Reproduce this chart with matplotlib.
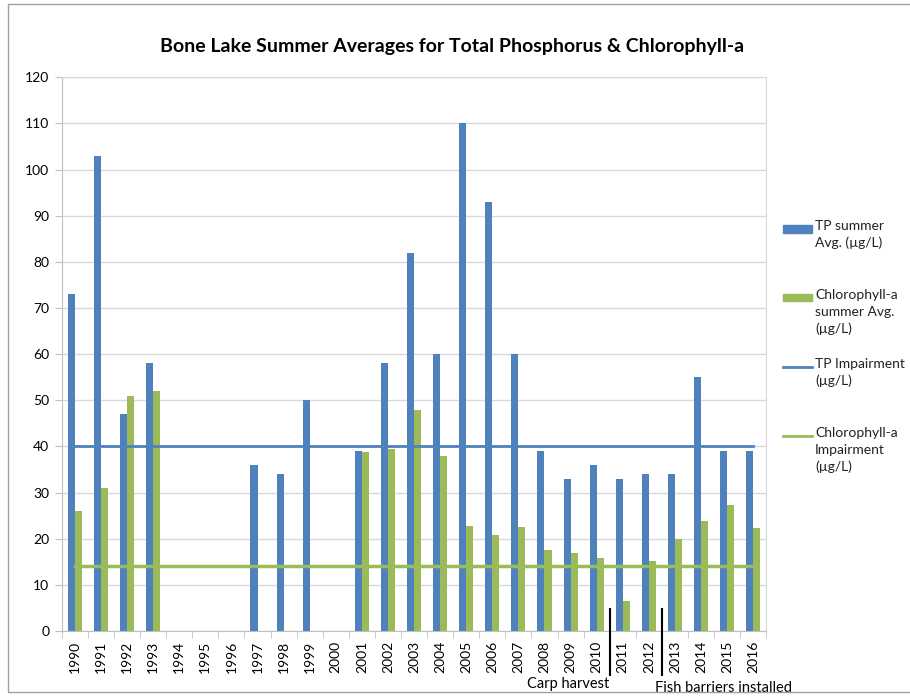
import matplotlib.pyplot as plt
from matplotlib.patches import Rectangle
from matplotlib.lines import Line2D
import numpy as np

plt.rcParams['font.family'] = ['Lato', 'DejaVu Sans']

years = [str(y) for y in range(1990, 2017)]
tp_avg = [73, 103, 47, 58, np.nan, np.nan, np.nan, 36, 34, 50, np.nan, 39, 58, 82, 60,
          110, 93, 60, 39, 33, 36, 33, 34, 34, 55, 39, 39]
chl_avg = [26, 31, 51, 52, np.nan, np.nan, np.nan, np.nan, np.nan, np.nan, np.nan, 38.8, 39.5,
           47.8, 37.9, 22.7, 20.8, 22.5, 17.5, 16.9, 15.9, 6.4, 15.2, 20, 23.9, 27.3, 22.3]
tp_impair = 40
chl_impair = 14
events = [(20.5, 'Carp harvest'), (22.5, 'Fish barriers installed')]

blue = '#4F81BD'
green = '#9BBB59'

W, H = 910, 696
fig = plt.figure(figsize=(W / 100, H / 100), dpi=100)
ax = fig.add_axes([0.068, 0.0934, 0.774, 0.7956])

x = np.arange(len(years))
w = 0.27
ax.bar(x - w / 2, tp_avg, w, color=blue, zorder=2)
ax.bar(x + w / 2, chl_avg, w, color=green, zorder=2)
ax.plot([x[0], x[-1]], [tp_impair, tp_impair], color=blue, lw=2, zorder=3)
ax.plot([x[0], x[-1]], [chl_impair, chl_impair], color=green, lw=2.5, zorder=3)

ax.set_xlim(-0.5, len(years) - 0.5)
ax.set_ylim(0, 120)
ax.set_yticks(range(0, 121, 10))
ax.set_xticks(x)
ax.set_xticklabels(years, rotation=90, fontsize=10)
ax.set_xticks(np.arange(-0.5, len(years)), minor=True)
ax.tick_params(axis='x', which='major', length=0, pad=7)
ax.tick_params(axis='x', which='minor', length=5, color='#bfbfbf')
ax.tick_params(axis='y', length=5, color='#bfbfbf', labelsize=10, pad=4)
ax.grid(axis='y', color='#d9d9d9', lw=1, zorder=0)
for s in ax.spines.values():
    s.set_color('#d9d9d9')
ax.spines['left'].set_color('#bfbfbf')
ax.spines['bottom'].set_color('#bfbfbf')

# event markers below the bars
for xe, label in events:
    ax.plot([xe, xe], [4.8, -9.5], color='black', lw=1.5, clip_on=False, zorder=4)
ax.text(events[0][0], -11.5, events[0][1], ha='right', va='center', fontsize=10.5, clip_on=False)
ax.text(events[1][0] - 0.25, -12.3, events[1][1], ha='left', va='center', fontsize=10.5, clip_on=False)

fig.text(0.497, 0.933, 'Bone Lake Summer Averages for Total Phosphorus & Chlorophyll-a',
         ha='center', va='center', fontsize=14, fontweight='bold')

# legend drawn by hand so the keys line up with the first text line (as in Excel)
labels = ['TP summer\nAvg. (µg/L)', 'Chlorophyll-a\nsummer Avg.\n(µg/L)',
          'TP Impairment\n(µg/L)', 'Chlorophyll-a\nImpairment\n(µg/L)']
kinds = ['bar', 'bar', 'line', 'line']
colors = [blue, green, blue, green]
for i, (lab, kind, c) in enumerate(zip(labels, kinds, colors)):
    yp = 229 + 69 * i
    yf = 1 - yp / H
    if kind == 'bar':
        fig.patches.append(Rectangle((783 / W, yf - 3.5 / H), 29 / W, 7 / H,
                                     transform=fig.transFigure, color=c))
    else:
        fig.lines.append(Line2D([783 / W, 812 / W], [yf, yf], transform=fig.transFigure,
                                color=c, lw=2))
    fig.text(815 / W, 1 - (yp - 9) / H, lab, ha='left', va='top', fontsize=10,
             linespacing=1.45, color='#222222')

fig.patches.append(Rectangle((0.009, 0.006), 1.2, 0.988, transform=fig.transFigure,
                             fill=False, edgecolor='#a0a0a0', lw=1))

fig.savefig('out.png', dpi=100)
